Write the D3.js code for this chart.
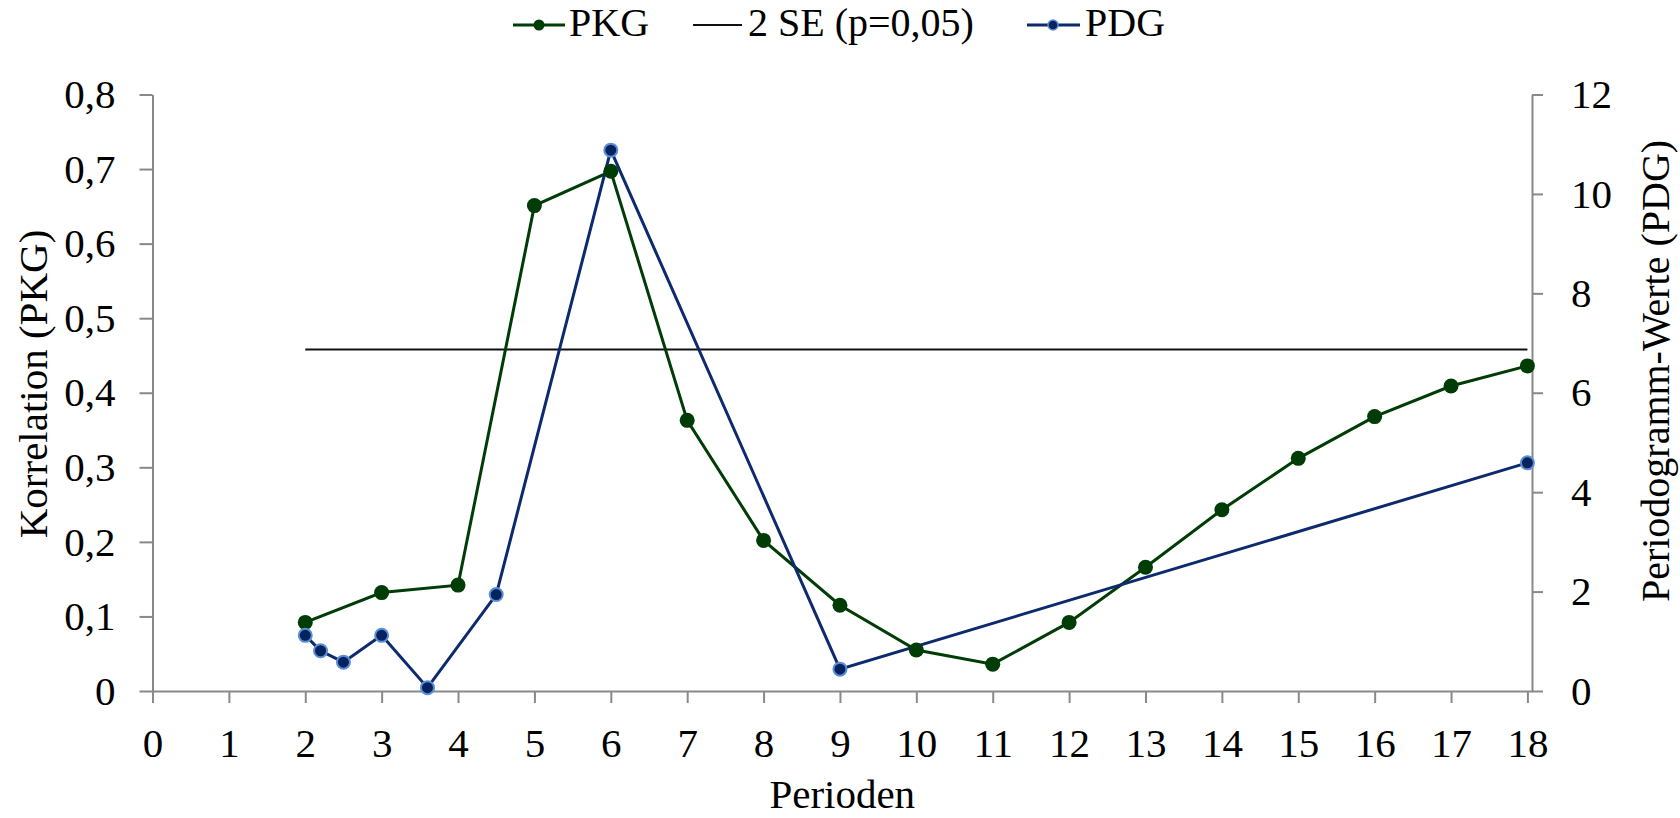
<!DOCTYPE html>
<html>
<head>
<meta charset="utf-8">
<script src="https://cdn.jsdelivr.net/npm/d3@7"></script>
<style>
  body { margin: 0; background: #fff; }
  text { font-family: "Liberation Serif", "Times New Roman", serif; fill: #000; }
  .axis path, .axis line { stroke: #898989; stroke-width: 2; }
  .axis text { font-size: 41px; }
</style>
</head>
<body>
<div id="svgdiv"></div>
<script>
// data
var pkgPeriods = [2, 3, 4, 5, 6, 7, 8, 9, 10, 11, 12, 13, 14, 15, 16, 17, 18];
var pkgValues  = [0.092, 0.132, 0.142, 0.651, 0.697, 0.363, 0.202, 0.115, 0.055, 0.036,
                  0.092, 0.166, 0.243, 0.312, 0.368, 0.409, 0.436];

var pdgPeriods = [2, 2.2, 2.5, 3, 3.6, 4.5, 6, 9, 18];
var pdgValues  = [1.12, 0.81, 0.58, 1.12, 0.067, 1.94, 10.88, 0.44, 4.59];

// 2 SE line, from period 2 to 18
var sePeriods = [2, 18];
var seValue = 0.458;

var xTicks = [0, 1, 2, 3, 4, 5, 6, 7, 8, 9, 10, 11, 12, 13, 14, 15, 16, 17, 18];
var yLeftTicks = [0, 0.1, 0.2, 0.3, 0.4, 0.5, 0.6, 0.7, 0.8];
var yRightTicks = [0, 2, 4, 6, 8, 10, 12];

var legendNames = ["PKG", "2 SE (p=0,05)", "PDG"];

var width = 1680, height = 818;
var plotLeft = 152.5, plotRight = 1532, plotTop = 94.5, plotBottom = 691;

var svg = d3.select("#svgdiv").append("svg")
    .attr("width", width)
    .attr("height", height);

var x = d3.scaleLinear().domain([0, 18.06]).range([plotLeft, plotRight]);
var yL = d3.scaleLinear().domain([0, 0.8]).range([plotBottom, plotTop]);
var yR = d3.scaleLinear().domain([0, 12]).range([plotBottom, plotTop]);

var comma = function(d){ return d === 0 ? "0" : d3.format(".1f")(d).replace(".", ","); };

// axes
svg.append("g")
   .attr("class", "axis")
   .attr("transform", "translate(0," + plotBottom + ")")
   .call(d3.axisBottom(x).tickValues(xTicks).tickSize(12).tickSizeOuter(0).tickPadding(25));

svg.append("g")
   .attr("class", "axis")
   .attr("transform", "translate(" + plotLeft + ",0)")
   .call(d3.axisLeft(yL).tickValues(yLeftTicks).tickFormat(comma).tickSize(13).tickSizeOuter(0).tickPadding(24));

svg.append("g")
   .attr("class", "axis")
   .attr("transform", "translate(" + plotRight + ",0)")
   .call(d3.axisRight(yR).tickValues(yRightTicks).tickSize(11).tickSizeOuter(0).tickPadding(28));

// axis titles
svg.append("text")
   .attr("transform", "translate(33,384) rotate(-90)")
   .attr("text-anchor", "middle")
   .attr("dy", "0.35em")
   .style("font-size", "41px")
   .text("Korrelation (PKG)");

svg.append("text")
   .attr("transform", "translate(1655,371) rotate(-90)")
   .attr("text-anchor", "middle")
   .attr("dy", "0.35em")
   .style("font-size", "40px")
   .text("Periodogramm-Werte (PDG)");

svg.append("text")
   .attr("x", (plotLeft + plotRight) / 2)
   .attr("y", 808)
   .attr("text-anchor", "middle")
   .style("font-size", "41px")
   .text("Perioden");

var green = "#003c05", blue = "#0d2a6e", blueFill = "#06225f", blueEdge = "#5b8fd3";

// 2 SE line
svg.append("line")
   .attr("x1", x(sePeriods[0]))
   .attr("x2", x(sePeriods[1]))
   .attr("y1", yL(seValue))
   .attr("y2", yL(seValue))
   .style("stroke", "#111")
   .style("stroke-width", 2);

// PKG
var pkg = pkgPeriods.map(function(p, i){ return [p, pkgValues[i]]; });
svg.append("path")
   .datum(pkg)
   .attr("d", d3.line().x(function(d){ return x(d[0]); }).y(function(d){ return yL(d[1]); }))
   .style("fill", "none")
   .style("stroke", green)
   .style("stroke-width", 3);

// PDG
var pdg = pdgPeriods.map(function(p, i){ return [p, pdgValues[i]]; });
svg.append("path")
   .datum(pdg)
   .attr("d", d3.line().x(function(d){ return x(d[0]); }).y(function(d){ return yR(d[1]); }))
   .style("fill", "none")
   .style("stroke", blue)
   .style("stroke-width", 3);

svg.selectAll(".pkgdot")
   .data(pkg).enter()
   .append("circle")
   .attr("cx", function(d){ return x(d[0]); })
   .attr("cy", function(d){ return yL(d[1]); })
   .attr("r", 7.5)
   .style("fill", green);

svg.selectAll(".pdgdot")
   .data(pdg).enter()
   .append("circle")
   .attr("cx", function(d){ return x(d[0]); })
   .attr("cy", function(d){ return yR(d[1]); })
   .attr("r", 6.5)
   .style("fill", blueFill)
   .style("stroke", blueEdge)
   .style("stroke-width", 2);

// legend
var ly = 25;
var legend = svg.append("g").style("font-size", "40px");

legend.append("line").attr("x1", 513).attr("x2", 565).attr("y1", ly).attr("y2", ly)
      .style("stroke", green).style("stroke-width", 3);
legend.append("circle").attr("cx", 539).attr("cy", ly).attr("r", 5.5).style("fill", green);
legend.append("text").attr("x", 569).attr("y", 35.5).text(legendNames[0]);

legend.append("line").attr("x1", 693).attr("x2", 742).attr("y1", ly).attr("y2", ly)
      .style("stroke", "#111").style("stroke-width", 2);
legend.append("text").attr("x", 748).attr("y", 35.5).text(legendNames[1]);

legend.append("line").attr("x1", 1027).attr("x2", 1080).attr("y1", ly).attr("y2", ly)
      .style("stroke", blue).style("stroke-width", 3);
legend.append("circle").attr("cx", 1053).attr("cy", ly).attr("r", 5)
      .style("fill", blueFill).style("stroke", blueEdge).style("stroke-width", 1.5);
legend.append("text").attr("x", 1085).attr("y", 35.5).text(legendNames[2]);
</script>
</body>
</html>
